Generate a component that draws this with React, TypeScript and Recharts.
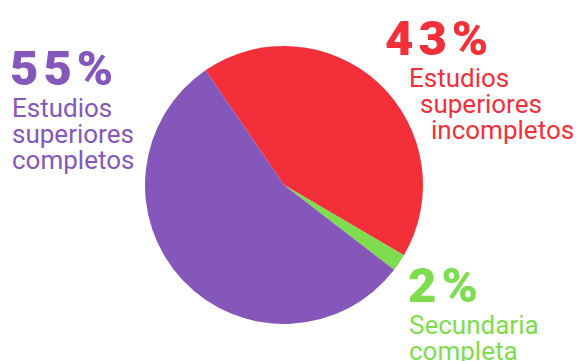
import React from 'react';
import { PieChart, Pie, Cell } from 'recharts';

// Nivel educativo
const categories = ['Estudios superiores incompletos', 'Secundaria completa', 'Estudios superiores completos'];
const values = [43, 2, 55];
const percentLabels = ['43%', '2%', '55%'];
const labelLines = [
  ['Estudios', 'superiores', 'incompletos'],
  ['Secundaria', 'completa'],
  ['Estudios', 'superiores', 'completos'],
];
const colors = ['#F3303A', '#7EDC4F', '#8557BB'];

// where each label block sits (x of % and of each text line, baseline of %)
const labelLayout = [
  { x: 385, y: 55, lineX: [409, 420, 431] },
  { x: 408, y: 302, lineX: [409, 409] },
  { x: 10, y: 85, lineX: [12, 12, 12] },
];

const data = categories.map((name, i) => ({ name, value: values[i] }));

const renderLabel = (props: any) => {
  const i = props.index;
  const pos = labelLayout[i];
  return (
    <g key={`lbl-${i}`}>
      <text
        x={pos.x}
        y={pos.y}
        fill={colors[i]}
        fontFamily="Roboto, sans-serif"
        fontWeight={900}
        fontSize={49}
        letterSpacing={5}
      >
        {percentLabels[i]}
      </text>
      {labelLines[i].map((line, j) => (
        <text
          key={j}
          x={pos.lineX[j]}
          y={pos.y + 32 + j * 26}
          fill={colors[i]}
          fontFamily="Roboto, sans-serif"
          fontWeight={400}
          fontSize={26}
        >
          {line}
        </text>
      ))}
    </g>
  );
};

export default function App() {
  return (
    <div style={{ position: 'absolute', left: 0, top: 0, background: '#fff' }}>
      <PieChart width={576} height={361} margin={{ top: 0, right: 0, bottom: 0, left: 0 }}>
        <Pie
          data={data}
          dataKey="value"
          nameKey="name"
          cx={284}
          cy={185}
          outerRadius={139}
          startAngle={124.4}
          endAngle={-235.6}
          stroke="none"
          label={renderLabel}
          labelLine={false}
          isAnimationActive={false}
        >
          {data.map((d, i) => (
            <Cell key={d.name} fill={colors[i]} />
          ))}
        </Pie>
      </PieChart>
    </div>
  );
}
